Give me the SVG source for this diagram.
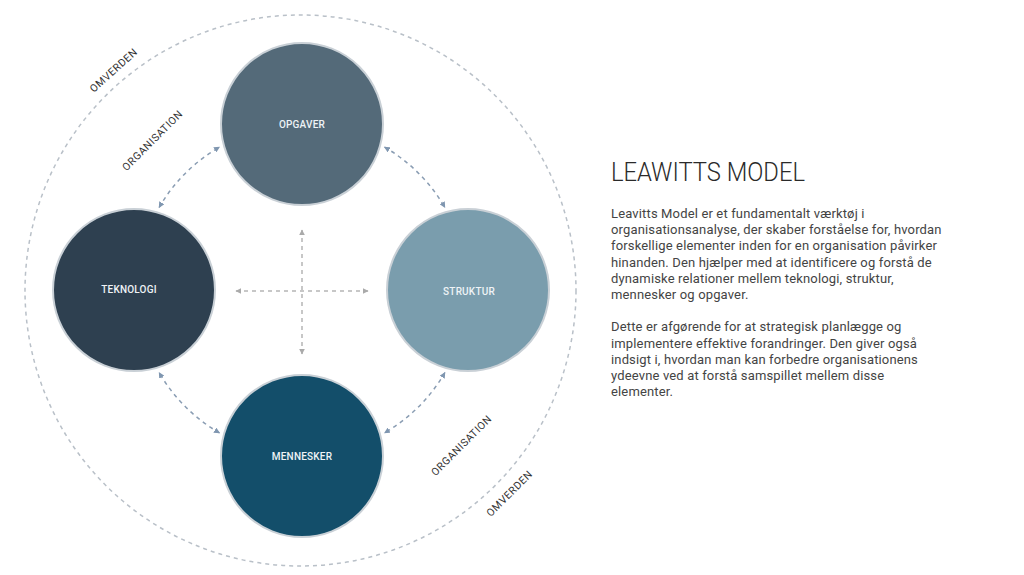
<svg xmlns="http://www.w3.org/2000/svg" width="1024" height="575" viewBox="0 0 1024 575">
  <style>
    .node { stroke: #c9d0d6; stroke-width: 2; }
    .nlabel { font-family: Roboto, "Liberation Sans", sans-serif; font-size: 10px; font-weight: 500; fill: #eef3f6; text-anchor: middle; letter-spacing: 0.2px; }
    .ring { fill: none; stroke: #b9c0c8; stroke-width: 1.5; stroke-dasharray: 4 4; }
    .arc { fill: none; stroke: #8a9db3; stroke-width: 1.5; stroke-dasharray: 4 4; }
    .cross { fill: none; stroke: #b5b5b5; stroke-width: 1.5; stroke-dasharray: 4 4; }
    .ring-label { font-family: Roboto, "Liberation Sans", sans-serif; font-size: 10.5px; fill: #333; text-anchor: middle; letter-spacing: 0.5px; }
    .title { font-family: Roboto, "Liberation Sans", sans-serif; font-size: 25px; font-weight: 300; fill: #2a2a2a; }
    .body { font-family: Roboto, "Liberation Sans", sans-serif; font-size: 13px; fill: #444; letter-spacing: 0.15px; }
  </style>
  <defs>
    <marker id="ah" viewBox="0 0 10 10" refX="9" refY="5" markerWidth="6" markerHeight="6" markerUnits="userSpaceOnUse" orient="auto-start-reverse">
      <path d="M0,0 L10,5 L0,10 z" fill="#7f96b0"/>
    </marker>
    <marker id="ahg" viewBox="0 0 10 10" refX="9" refY="5" markerWidth="6" markerHeight="6" markerUnits="userSpaceOnUse" orient="auto-start-reverse">
      <path d="M0,0 L10,5 L0,10 z" fill="#aaaaaa"/>
    </marker>
  </defs>
  <rect width="1024" height="575" fill="#ffffff"/>

  <g id="omverden-ring">
    <circle class="ring" cx="300.5" cy="290.5" r="275.5"/>
  </g>

  <g id="connectors">
    <path class="arc" d="M159.1,207.5 A165,165 0 0 1 219.5,147.1" marker-start="url(#ah)" marker-end="url(#ah)"/>
    <path class="arc" d="M384.5,147.1 A165,165 0 0 1 444.9,207.5" marker-start="url(#ah)" marker-end="url(#ah)"/>
    <path class="arc" d="M444.9,372.5 A165,165 0 0 1 384.5,432.9" marker-start="url(#ah)" marker-end="url(#ah)"/>
    <path class="arc" d="M219.5,432.9 A165,165 0 0 1 159.1,372.5" marker-start="url(#ah)" marker-end="url(#ah)"/>
    <line class="cross" x1="236" y1="291" x2="368" y2="291" marker-start="url(#ahg)" marker-end="url(#ahg)"/>
    <line class="cross" x1="302" y1="230" x2="302" y2="354" marker-start="url(#ahg)" marker-end="url(#ahg)"/>
  </g>

  <g id="opgaver">
    <circle class="node" cx="302" cy="124" r="81" fill="#546a79"/>
    <text class="nlabel" x="302" y="127.5">OPGAVER</text>
  </g>
  <g id="teknologi">
    <circle class="node" cx="134" cy="290" r="81" fill="#2e4050"/>
    <text class="nlabel" x="129" y="292.5">TEKNOLOGI</text>
  </g>
  <g id="struktur">
    <circle class="node" cx="468" cy="290" r="81" fill="#7a9dad"/>
    <text class="nlabel" x="469" y="294.5">STRUKTUR</text>
  </g>
  <g id="mennesker">
    <circle class="node" cx="302" cy="456" r="81" fill="#134e6a"/>
    <text class="nlabel" x="302" y="459.5">MENNESKER</text>
  </g>

  <g id="ring-labels">
    <text class="ring-label" transform="translate(116,73) rotate(-42)">OMVERDEN</text>
    <text class="ring-label" transform="translate(155,143) rotate(-45)">ORGANISATION</text>
    <text class="ring-label" transform="translate(464,448) rotate(-45)">ORGANISATION</text>
    <text class="ring-label" transform="translate(512,496) rotate(-45)">OMVERDEN</text>
  </g>

  <g id="description">
    <text class="title" x="611" y="181" textLength="194" lengthAdjust="spacingAndGlyphs">LEAWITTS MODEL</text>
    <text class="body" x="611">
      <tspan x="611" y="218">Leavitts Model er et fundamentalt værktøj i</tspan>
      <tspan x="611" y="234.2">organisationsanalyse, der skaber forståelse for, hvordan</tspan>
      <tspan x="611" y="250.4">forskellige elementer inden for en organisation påvirker</tspan>
      <tspan x="611" y="266.6">hinanden. Den hjælper med at identificere og forstå de</tspan>
      <tspan x="611" y="282.8">dynamiske relationer mellem teknologi, struktur,</tspan>
      <tspan x="611" y="299">mennesker og opgaver.</tspan>
      <tspan x="611" y="331.4">Dette er afgørende for at strategisk planlægge og</tspan>
      <tspan x="611" y="347.6">implementere effektive forandringer. Den giver også</tspan>
      <tspan x="611" y="363.8">indsigt i, hvordan man kan forbedre organisationens</tspan>
      <tspan x="611" y="380">ydeevne ved at forstå samspillet mellem disse</tspan>
      <tspan x="611" y="396.2">elementer.</tspan>
    </text>
  </g>
</svg>
